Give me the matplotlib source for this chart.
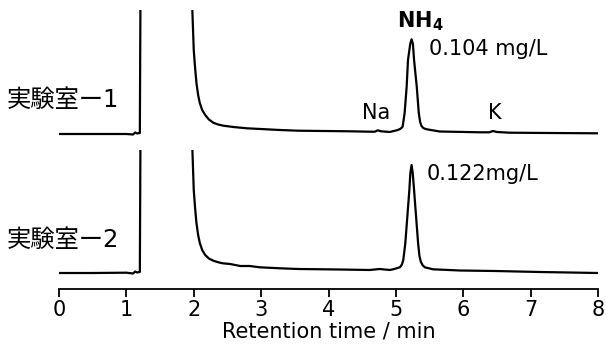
import matplotlib
matplotlib.use("Agg")
import matplotlib.pyplot as plt

# ---- data ----
# Retention time (min) and detector signal (arbitrary units, baseline = 0)
t_lab1 = [0.00, 0.50, 1.00, 1.10, 1.13, 1.16, 1.19, 1.20, 1.21, 1.97, 1.98, 2.00,
          2.02, 2.04, 2.065, 2.09, 2.125, 2.17, 2.225, 2.29, 2.36, 2.44, 2.60, 2.79,
          3.28, 3.55, 4.32, 4.61, 4.69, 4.73, 4.78, 4.91, 5.03, 5.07, 5.10, 5.13,
          5.16, 5.18, 5.213, 5.233, 5.253, 5.27, 5.31, 5.34, 5.36, 5.38, 5.41, 5.46,
          5.65, 6.25, 6.39, 6.44, 6.50, 6.69, 7.28, 8.00]
s_lab1 = [0, 0, 0, -0.5, 1.5, 0.5, 1, 1, 150, 150, 122, 84,
          66, 51, 39, 31, 24, 19, 14.5, 11.3, 9.5, 8.3, 6.9, 5.7,
          4, 3.3, 2.7, 2.3, 2.3, 3.7, 2.7, 2, 4, 5.3, 7.3, 21,
          47.3, 74, 90, 94.7, 90, 74, 47.3, 21, 12, 8, 5.8, 4.7,
          2.5, 1.7, 1.7, 3, 2, 1.3, 1, 0.7]

t_lab2 = [0.00, 0.50, 1.00, 1.10, 1.13, 1.16, 1.19, 1.20, 1.21, 1.97, 1.98, 2.00,
          2.02, 2.04, 2.065, 2.09, 2.125, 2.17, 2.225, 2.29, 2.36, 2.43, 2.54, 2.69,
          2.83, 2.98, 3.28, 3.55, 4.17, 4.61, 4.76, 4.91, 4.96, 5.06, 5.09, 5.11,
          5.14, 5.17, 5.20, 5.215, 5.233, 5.25, 5.27, 5.30, 5.33, 5.35, 5.37, 5.40,
          5.43, 5.55, 5.95, 6.47, 7.14, 8.00]
s_lab2 = [0, 0, 0.3, -0.5, 1.5, 0.5, 1, 1, 150, 150, 123, 83,
          65, 50, 38, 30, 23, 18, 14.5, 12.3, 10.8, 9.7, 9, 7,
          7, 5.7, 4.7, 4, 3.5, 3, 4, 3, 3.7, 5.7, 8.5, 13,
          29.7, 56.3, 83, 100, 108, 100, 83, 56.3, 29.7, 17, 11.3, 7.5,
          5.7, 3.7, 2.5, 2, 1, 0]

sample_labels = ["実験室ー1", "実験室ー2"]
peak_names = ["Na", r"$\mathbf{NH_4}$", "K"]
peak_times = [4.70, 5.36, 6.47]
conc_labels = ["0.104 mg/L", "0.122mg/L"]
x_ticks = [0, 1, 2, 3, 4, 5, 6, 7, 8]
x_label = "Retention time / min"

# ---- figure ----
W, H = 606, 347
fig = plt.figure(figsize=(W / 100, H / 100), dpi=100)
plt.rcParams['font.family'] = ['DejaVu Sans', 'Noto Sans CJK JP']

left = 59 / W
width = (598 - 59) / W
ax1 = fig.add_axes([left, (H - 150) / H, width, 140 / H])
ax2 = fig.add_axes([left, (H - 289) / H, width, 139 / H])

lw = 1.6
ax1.plot(t_lab1, s_lab1, color='black', lw=lw, solid_joinstyle='round')
ax2.plot(t_lab2, s_lab2, color='black', lw=lw, solid_joinstyle='round')

for ax in (ax1, ax2):
    ax.set_xlim(0, 8)
    ax.patch.set_visible(False)
    for sp in ('left', 'right', 'top'):
        ax.spines[sp].set_visible(False)
    ax.set_yticks([])
ax1.set_ylim(-16, 124)
ax2.set_ylim(-16, 123)
ax1.spines['bottom'].set_visible(False)
ax1.set_xticks([])

ax2.spines['bottom'].set_linewidth(1.3)
ax2.set_xticks(x_ticks)
ax2.tick_params(axis='x', direction='out', length=6, width=1.3, labelsize=15, pad=2)
ax2.set_xlabel(x_label, fontsize=15, labelpad=1)

fs = 15
ax1.text(peak_times[0], 21, peak_names[0], fontsize=fs, ha='center', va='center')
ax1.text(peak_times[2], 21, peak_names[2], fontsize=fs, ha='center', va='center')
ax1.text(peak_times[1], 107, peak_names[1], fontsize=fs, ha='center', va='baseline',
         clip_on=False)
ax1.text(5.49, 79, conc_labels[0], fontsize=fs, ha='left', va='baseline')
ax2.text(5.46, 93, conc_labels[1], fontsize=fs, ha='left', va='baseline')

fig.text(7 / W, (H - 100) / H, sample_labels[0], fontsize=17.5, ha='left', va='center')
fig.text(7 / W, (H - 240) / H, sample_labels[1], fontsize=17.5, ha='left', va='center')

fig.savefig("out.png", dpi=100)
